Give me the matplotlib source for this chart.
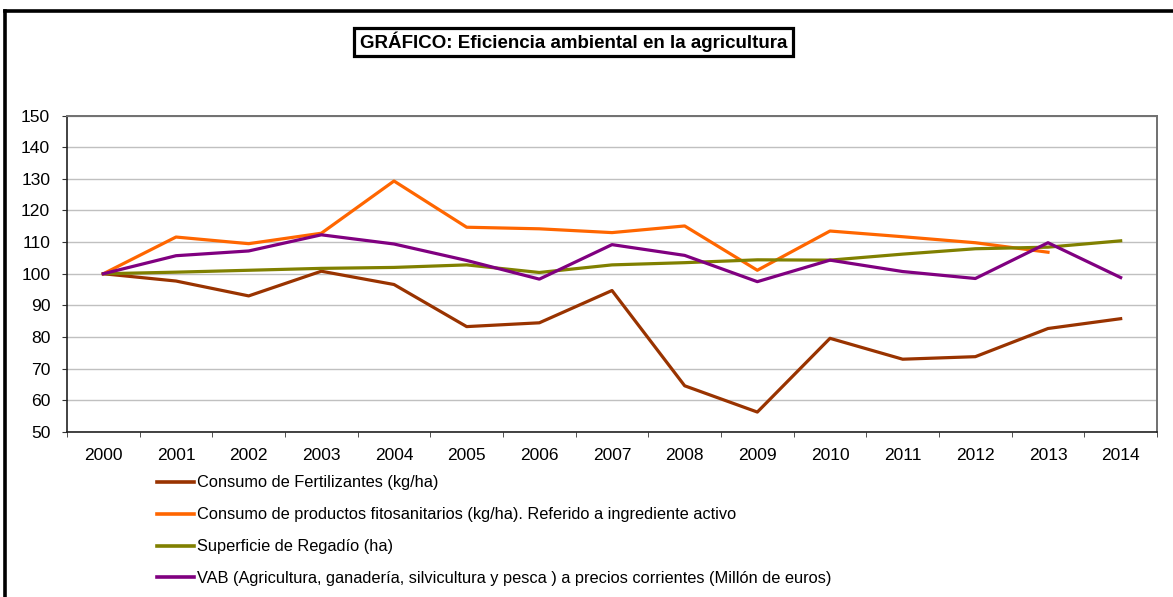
import numpy as np
from matplotlib import pyplot as plt
from matplotlib.lines import Line2D
from matplotlib.patches import Rectangle

plt.rcParams['font.family'] = ['Liberation Sans', 'DejaVu Sans']

W, H = 1173, 597

# --- Data ---
years = [str(y) for y in range(2000, 2015)]
fertilizantes = [100, 97.7, 93.0, 100.8, 96.6, 83.3, 84.5, 94.7, 64.6, 56.3,
                 79.6, 73.0, 73.8, 82.7, 85.8]
fitosanitarios = [100, 111.6, 109.5, 112.8, 129.3, 114.7, 114.2, 113.0, 115.1,
                  101.1, 113.5, 111.7, 109.8, 106.8, np.nan]
regadio = [100, 100.5, 101.1, 101.7, 102.0, 102.8, 100.4, 102.8, 103.5, 104.4,
           104.3, 106.2, 107.9, 108.4, 110.4]
vab = [100, 105.7, 107.2, 112.3, 109.4, 104.2, 98.3, 109.2, 105.8, 97.5,
       104.3, 100.7, 98.5, 109.8, 98.8]

series = [
    ("Consumo de Fertilizantes (kg/ha)", fertilizantes, "#993300"),
    ("Consumo de productos fitosanitarios (kg/ha). Referido a ingrediente activo",
     fitosanitarios, "#FF6600"),
    ("Superficie de Regadío (ha)", regadio, "#808000"),
    ("VAB (Agricultura, ganadería, silvicultura y pesca ) a precios corrientes (Millón de euros)",
     vab, "#800080"),
]

fig = plt.figure(figsize=(W / 100, H / 100), dpi=100)
ax = fig.add_axes([67 / W, 1 - 432 / H, 1090 / W, 316.5 / H])

x = np.arange(len(years))
for label, vals, color in series:
    ax.plot(x, vals, color=color, lw=2.3, label=label)

ax.set_xlim(-0.5, len(years) - 0.5)
ax.set_ylim(50, 150)
ax.set_yticks(range(50, 151, 10))
ax.grid(axis='y', color='#C0C0C0', lw=1)
ax.set_axisbelow(True)

ax.set_xticks(x)
ax.set_xticklabels(years)
ax.set_xticks(np.arange(-0.5, len(years), 1), minor=True)
ax.tick_params(axis='x', which='major', length=0, pad=11.5, labelsize=12.5)
ax.tick_params(axis='x', which='minor', length=3.6, direction='out', color='#333333')
ax.tick_params(axis='y', length=3.6, direction='out', labelsize=12.6, pad=8.5,
               color='#333333')

for side in ['left', 'bottom']:
    ax.spines[side].set_color('#222222')
    ax.spines[side].set_linewidth(1.2)
for side in ['top', 'right']:
    ax.spines[side].set_color('#707070')
    ax.spines[side].set_linewidth(1.4)

leg = ax.legend(loc='upper left', bbox_to_anchor=(157 / W, 1 - 475.5 / H),
                bbox_transform=fig.transFigure, frameon=False, fontsize=11.8,
                handlelength=2.25, handletextpad=0.18, labelspacing=1.03,
                borderaxespad=0, borderpad=0)
for h in leg.get_lines():
    h.set_linewidth(2.6)

# title with its box
fig.text(574 / W, 1 - 42 / H, "GRÁFICO: Eficiencia ambiental en la agricultura",
         ha='center', va='center', fontsize=13.5, fontweight='bold')
fig.add_artist(Rectangle((353.5 / W, 1 - 55.5 / H), 439 / W, 27.5 / H, fill=False,
                         ec='black', lw=2.3, transform=fig.transFigure))

# outer frame of the chart
fig.add_artist(Line2D([5.3 / W, 5.3 / W], [0, 1 - 10.7 / H], color='black', lw=2.6,
                      transform=fig.transFigure))
fig.add_artist(Line2D([5.3 / W, 1], [1 - 10.7 / H, 1 - 10.7 / H], color='black', lw=2.6,
                      transform=fig.transFigure))

fig.savefig("out.png", dpi=100)
